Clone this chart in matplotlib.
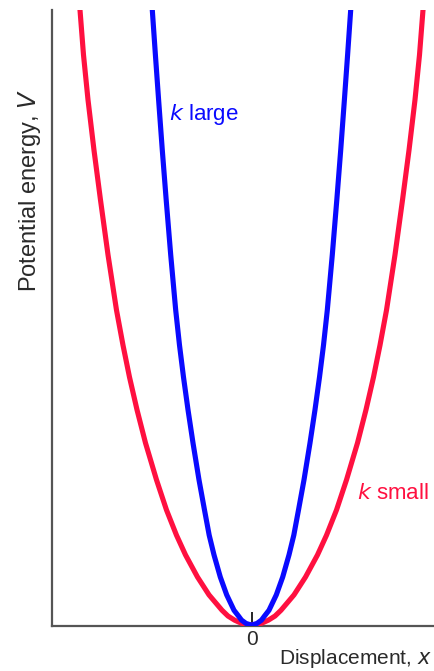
"""Harmonic potential wells: a stiff spring (k large) against a soft one (k small)."""

import matplotlib.pyplot as plt
import numpy as np

plt.rcParams["font.family"] = ["Liberation Sans", "DejaVu Sans"]

# Points on the positive-displacement side of each well (wells are symmetric about 0).
# Displacement in arbitrary units, potential energy normalised to the top of the plot.
energy = [0.0, 0.0024, 0.008, 0.0146, 0.024, 0.049, 0.078, 0.114, 0.146, 0.187,
          0.236, 0.296, 0.350, 0.403, 0.455, 0.512, 0.602, 0.691, 0.772, 0.854,
          0.927, 1.0, 1.057]
disp_k_small = [0.0, 0.095, 0.17, 0.235, 0.295, 0.425, 0.54, 0.66, 0.75, 0.85,
                0.95, 1.06, 1.145, 1.22, 1.285, 1.35, 1.435, 1.51, 1.575, 1.635,
                1.68, 1.715, 1.74]
disp_k_large = [0.0, 0.053, 0.10, 0.13, 0.175, 0.248, 0.312, 0.375, 0.423, 0.47,
                0.525, 0.585, 0.635, 0.68, 0.72, 0.758, 0.808, 0.853, 0.892, 0.929,
                0.961, 0.992, 1.016]

RED = "#ff1040"
BLUE = "#0a0aff"
TEXT = "#2a2a2a"


def mirrored(disp, v):
    """Full well from the one-sided points."""
    d = np.asarray(disp)
    v = np.asarray(v)
    return np.concatenate([-d[::-1], d[1:]]), np.concatenate([v[::-1], v[1:]])


fig = plt.figure(figsize=(4.34, 6.71), dpi=100)
ax = fig.add_axes([52 / 434, 45 / 671, 382 / 434, 616 / 671])

x_small, v_small = mirrored(disp_k_small, energy)
x_large, v_large = mirrored(disp_k_large, energy)
ax.plot(x_small, v_small, color=RED, lw=3.7, solid_joinstyle="round", zorder=3)
ax.plot(x_large, v_large, color=BLUE, lw=3.7, solid_joinstyle="round", zorder=4)

ax.set_xlim(-1.995, 1.825)
ax.set_ylim(-0.0016, 1.0)

for side in ("top", "right"):
    ax.spines[side].set_visible(False)
for side in ("left", "bottom"):
    ax.spines[side].set_color("#555555")
    ax.spines[side].set_linewidth(1.6)

ax.set_yticks([])
ax.set_xticks([0])
ax.set_xticklabels(["0"])
ax.tick_params(axis="x", direction="in", length=10, width=1.2, color="black",
               labelsize=15, labelcolor=TEXT, pad=3)
for t in ax.xaxis.get_major_ticks():
    t.tick1line.set_zorder(5)

ax.set_ylabel("Potential energy, $\\it{V}$", fontsize=17, color=TEXT)
ax.yaxis.set_label_coords(-0.024, 0.708)

# x label sits under the right half of the axis, hugging the figure edge
fig.text(0.995, 1 - 659 / 671, "Displacement, $\\it{x}$", fontsize=15,
         color=TEXT, ha="right", va="center")

ax.text(-0.825, 0.83, "$\\it{k}$ large", fontsize=16,
        color=BLUE, ha="left", va="center")
ax.text(1.055, 0.214, "$\\it{k}$ small", fontsize=16,
        color=RED, ha="left", va="center")

fig.savefig("out.png", dpi=100)
